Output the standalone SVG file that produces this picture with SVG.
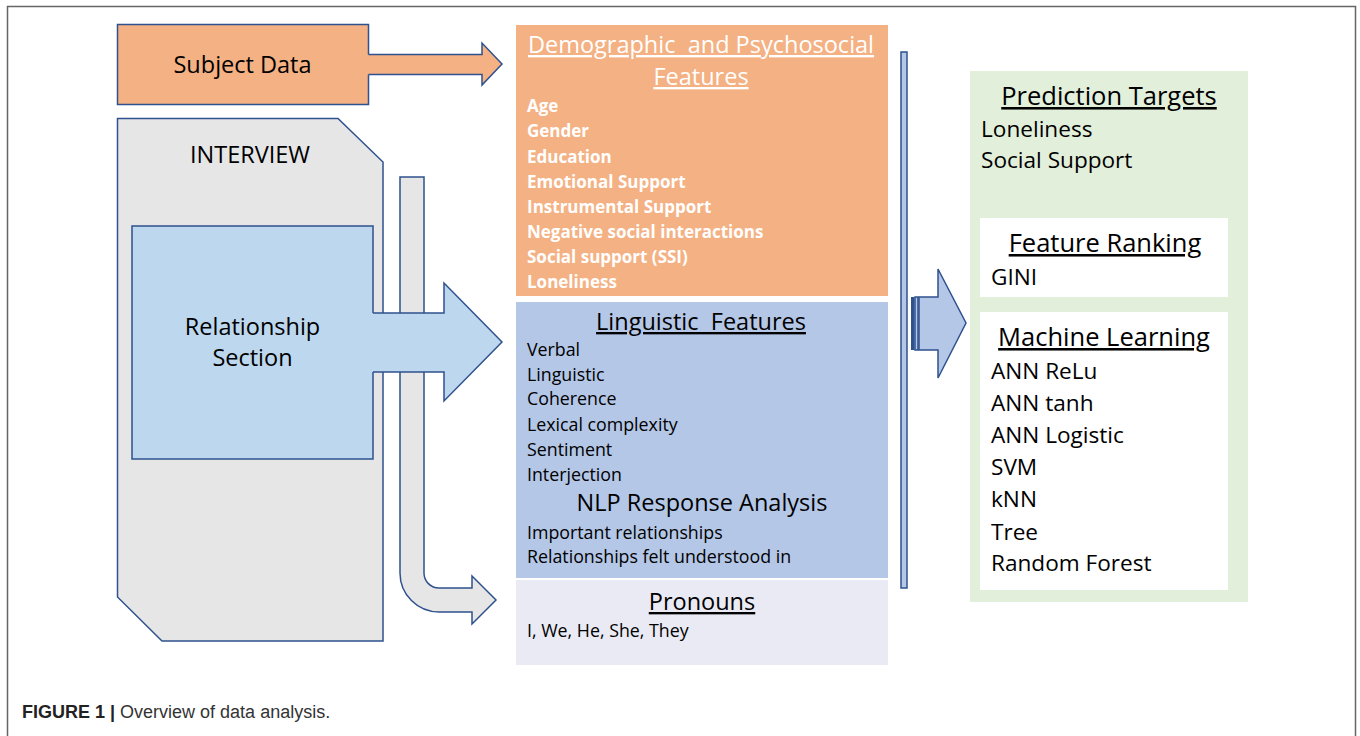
<svg xmlns="http://www.w3.org/2000/svg" width="1360" height="736" viewBox="0 0 1360 736">
<style>
.ol{stroke:#2F528F;stroke-width:1.5;stroke-linejoin:miter}
.t{font-family:"Open Sans","Noto Sans",sans-serif;fill:#000}
.w{fill:#fff}
.u{text-decoration:underline}
.h{font-size:23.5px}
.h2{font-size:25.5px}
.it{font-size:17.8px}
.b{font-weight:bold;font-size:17px}
.r{font-size:22.6px}
.cap{font-family:"Liberation Sans",Arial,sans-serif;font-size:18px;fill:#333}
</style>
<rect x="0" y="0" width="1360" height="736" fill="#fff"/>
<path d="M7.5,736 L7.5,6.5 L1355.5,6.5 L1355.5,736" fill="none" stroke="#666" stroke-width="1.5"/>

<g id="subject-data">
<rect class="ol" x="117.5" y="24.5" width="251" height="80" fill="#F4B183"/>
<text class="t h" x="242.5" y="73" text-anchor="middle">Subject Data</text>
</g>

<g id="interview">
<path class="ol" d="M117.5,118.5 L338,118.5 L383,162 L383,641 L162,641 L117.5,597 Z" fill="#E7E6E6"/>
<text class="t h" x="250" y="163" text-anchor="middle">INTERVIEW</text>
</g>

<g id="relationship-section">
<rect class="ol" x="132" y="226" width="241" height="233" fill="#BDD7EE"/>
<text class="t h" x="252.5" y="335" text-anchor="middle">Relationship</text>
<text class="t h" x="252.5" y="366" text-anchor="middle">Section</text>
</g>

<g id="demographic">
<rect x="516" y="25" width="372" height="271" fill="#F4B183"/>
<text class="t h w u" x="701" y="53" text-anchor="middle" xml:space="preserve">Demographic  and Psychosocial</text>
<text class="t h w u" x="701" y="85" text-anchor="middle">Features</text>
<text class="t b w" x="527" y="112">Age</text>
<text class="t b w" x="527" y="137">Gender</text>
<text class="t b w" x="527" y="162.5">Education</text>
<text class="t b w" x="527" y="187.5">Emotional Support</text>
<text class="t b w" x="527" y="213">Instrumental Support</text>
<text class="t b w" x="527" y="238">Negative social interactions</text>
<text class="t b w" x="527" y="263">Social support (SSI)</text>
<text class="t b w" x="527" y="288">Loneliness</text>
</g>

<g id="linguistic">
<rect x="516" y="302" width="372" height="276" fill="#B4C7E7"/>
<text class="t h u" x="701" y="330" text-anchor="middle" xml:space="preserve">Linguistic  Features</text>
<text class="t it" x="527" y="356">Verbal</text>
<text class="t it" x="527" y="381">Linguistic</text>
<text class="t it" x="527" y="405">Coherence</text>
<text class="t it" x="527" y="431">Lexical complexity</text>
<text class="t it" x="527" y="456">Sentiment</text>
<text class="t it" x="527" y="481">Interjection</text>
<text class="t h" x="702" y="511" text-anchor="middle">NLP Response Analysis</text>
<text class="t it" x="527" y="539">Important relationships</text>
<text class="t it" x="527" y="563">Relationships felt understood in</text>
</g>

<g id="pronouns">
<rect x="516" y="580" width="372" height="85" fill="#EAEAF4"/>
<text class="t h u" x="702" y="610" text-anchor="middle">Pronouns</text>
<text class="t it" x="527" y="637">I, We, He, She, They</text>
</g>

<g id="collector-bar">
<rect class="ol" x="901" y="52" width="6" height="536" fill="#B4C7E7"/>
</g>

<g id="prediction-targets">
<rect x="970" y="71" width="278" height="531" fill="#E2EFDA"/>
<text class="t h2 u" x="1109" y="105" text-anchor="middle">Prediction Targets</text>
<text class="t r" x="981" y="137">Loneliness</text>
<text class="t r" x="981" y="168">Social Support</text>
</g>

<g id="feature-ranking">
<rect x="980" y="218" width="248" height="79" fill="#fff"/>
<text class="t h2 u" x="1105" y="252" text-anchor="middle">Feature Ranking</text>
<text class="t r" x="991" y="285">GINI</text>
</g>

<g id="machine-learning">
<rect x="980" y="312" width="248" height="278" fill="#fff"/>
<text class="t h2 u" x="1104" y="346" text-anchor="middle">Machine Learning</text>
<text class="t r" x="991" y="379">ANN ReLu</text>
<text class="t r" x="991" y="411">ANN tanh</text>
<text class="t r" x="991" y="443">ANN Logistic</text>
<text class="t r" x="991" y="475">SVM</text>
<text class="t r" x="991" y="507">kNN</text>
<text class="t r" x="991" y="540">Tree</text>
<text class="t r" x="991" y="571">Random Forest</text>
</g>

<g id="connectors">
<path d="M366,54.5 L482,54.5 L482,43 L502,64 L482,85 L482,74.5 L366,74.5 Z" fill="#F4B183"/>
<path class="ol" d="M368.5,54.5 L482,54.5 L482,43 L502,64 L482,85 L482,74.5 L368.5,74.5" fill="none"/>
<path class="ol" d="M400,177 L424,177 L424,573 A15,15 0 0 0 439,588 L472,588 L472,576 L496,600 L472,624 L472,612 L439,612 A39,39 0 0 1 400,573 Z" fill="#E7E6E6"/>
<path d="M371,313 L444,313 L444,283 L502,342 L444,401 L444,372 L371,372 Z" fill="#BDD7EE"/>
<path class="ol" d="M373,313 L444,313 L444,283 L502,342 L444,401 L444,372 L373,372" fill="none"/>
<rect x="911" y="297" width="3.5" height="53" fill="#2F528F"/>
<rect class="ol" x="915" y="297" width="3" height="53" fill="#B4C7E7" stroke-width="1"/>
<path class="ol" d="M919,297 L938,297 L938,269 L966,323 L938,378 L938,350 L919,350 Z" fill="#B4C7E7"/>
</g>

<text class="cap" x="22" y="718"><tspan font-weight="bold" fill="#222">FIGURE 1 |</tspan> Overview of data analysis.</text>
</svg>
